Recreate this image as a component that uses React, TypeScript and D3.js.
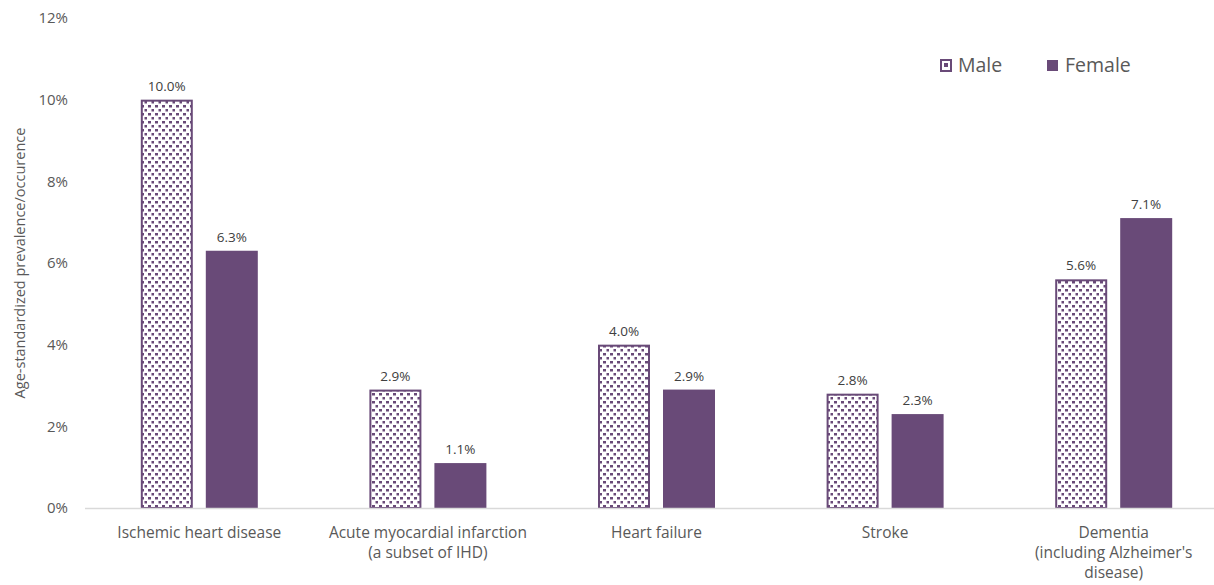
import React from "react";
import * as d3 from "d3";

const categories = [
  ["Ischemic heart disease"],
  ["Acute myocardial infarction", "(a subset of IHD)"],
  ["Heart failure"],
  ["Stroke"],
  ["Dementia", "(including Alzheimer's", "disease)"],
];
const maleValues = [10.0, 2.9, 4.0, 2.8, 5.6];
const femaleValues = [6.3, 1.1, 2.9, 2.3, 7.1];
const yTicks = [0, 2, 4, 6, 8, 10, 12];
const seriesNames = ["Male", "Female"];

const W = 1214;
const H = 585;
const PURPLE = "#694a78";
const TEXT = "#595959";
const FONT = "'Open Sans', sans-serif";

export default function App() {
  const x = d3
    .scaleBand<number>()
    .domain(d3.range(categories.length))
    .range([85, 1228]);
  const y = d3.scaleLinear().domain([0, 12]).range([508, 18]);
  const barW = 52;
  const gap = 13;

  const bars = categories.flatMap((_, i) => {
    const c = (x(i) as number) + x.bandwidth() / 2;
    return [
      { v: maleValues[i], x0: c - gap / 2 - barW, male: true, key: `m${i}` },
      { v: femaleValues[i], x0: c + gap / 2, male: false, key: `f${i}` },
    ];
  });

  return (
    <svg width={W} height={H} style={{ position: "absolute", left: 0, top: 0, fontFamily: FONT }}>
      <defs>
        <pattern id="dots" width="7" height="8" patternUnits="userSpaceOnUse">
          <rect width="7" height="8" fill="#fff" />
          <rect x="1" y="1" width="3" height="2.5" fill={PURPLE} />
          <rect x="4.5" y="5" width="3" height="2.5" fill={PURPLE} />
        </pattern>
      </defs>
      {yTicks.map((t) => (
        <text
          key={t}
          x={68}
          y={y(t)}
          dy="0.35em"
          textAnchor="end"
          fontSize={15}
          fill={TEXT}
        >
          {t}%
        </text>
      ))}
      <text
        transform={`translate(20,${y(6)}) rotate(-90)`}
        textAnchor="middle"
        dy="0.35em"
        fontSize={14.5}
        fill={TEXT}
      >
        Age-standardized prevalence/occurence
      </text>
      {bars.map((b) => (
        <g key={b.key}>
          <rect
            x={b.male ? b.x0 + 1 : b.x0}
            y={b.male ? y(b.v) + 1 : y(b.v)}
            width={b.male ? barW - 2 : barW}
            height={b.male ? y(0) - y(b.v) - 1 : y(0) - y(b.v)}
            fill={b.male ? "url(#dots)" : PURPLE}
            stroke={b.male ? PURPLE : "none"}
            strokeWidth={2}
          />
          <text
            x={b.x0 + barW / 2}
            y={y(b.v) - 9}
            textAnchor="middle"
            fontSize={13.5}
            fill="#404040"
          >
            {b.v.toFixed(1)}%
          </text>
        </g>
      ))}
      <line x1={85} x2={1228} y1={y(0) + 0.5} y2={y(0) + 0.5} stroke="#d9d9d9" strokeWidth={1.5} />
      {categories.map((lines, i) => (
        <text
          key={i}
          x={(x(i) as number) + x.bandwidth() / 2}
          y={538}
          textAnchor="middle"
          fontSize={15.5}
          fill={TEXT}
        >
          {lines.map((l, j) => (
            <tspan key={j} x={(x(i) as number) + x.bandwidth() / 2} dy={j === 0 ? 0 : 20}>
              {l}
            </tspan>
          ))}
        </text>
      ))}
      <g>
        <rect x={941} y={60} width={10} height={11} fill="#fff" stroke={PURPLE} strokeWidth={2} />
        <rect x={944} y={63} width={4} height={4} fill={PURPLE} />
        <text x={958} y={72} fontSize={19.5} fill={TEXT}>
          {seriesNames[0]}
        </text>
        <rect x={1047} y={60} width={11} height={11} fill={PURPLE} />
        <text x={1065} y={72} fontSize={19.5} fill={TEXT}>
          {seriesNames[1]}
        </text>
      </g>
    </svg>
  );
}
